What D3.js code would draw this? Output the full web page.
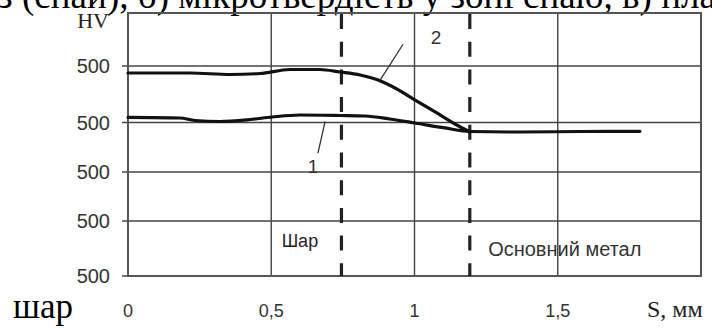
<!DOCTYPE html>
<html>
<head>
<meta charset="utf-8">
<script src="https://cdn.jsdelivr.net/npm/d3@7"></script>
<style>
  body { margin: 0; background: #fff; }
  svg { display: block; }
</style>
</head>
<body>
<div id="vis"></div>
<script>
var W = 712, H = 329;
var margin = {top: 13, right: 11, bottom: 53, left: 128};

// x ticks (mm) and their labels
var xTicks = [0, 0.5, 1, 1.5];
var xTickLabels = ["0", "0,5", "1", "1,5"];
// y ticks (HV) - labels as printed in the source
var yTicks = [100, 200, 300, 400, 500];
var yTickLabels = ["500", "500", "500", "500", "500"];

// zone borders (dashed), mm
var zoneBounds = [0.745, 1.193];

// curve 1
var s1  = [0, 0.181, 0.234, 0.321, 0.426, 0.503, 0.600, 0.740, 0.827, 0.914, 1.002, 1.106, 1.194, 1.368, 1.578, 1.787];
var hv1 = [409, 408, 403.5, 401.8, 405.3, 409.7, 413.3, 412.4, 411.5, 406.2, 399, 389, 381.8, 380.8, 381.8, 382.2];
// curve 2
var s2  = [0, 0.216, 0.356, 0.461, 0.565, 0.670, 0.740, 0.810, 0.873, 0.932, 1.002, 1.072, 1.141, 1.194];
var hv2 = [487.6, 487.6, 485, 486.7, 493.8, 493.8, 489.4, 484.1, 475.2, 461.1, 439.8, 418.6, 397, 380.8];

var svg = d3.select("#vis").append("svg")
  .attr("width", W).attr("height", H);

var x = d3.scaleLinear().domain([0, 2]).range([margin.left, W - margin.right]);
// the scanned grid is not evenly spaced, so the scale is piecewise
var y = d3.scaleLinear()
  .domain([100, 200, 300, 400, 500, 600])
  .range([276, 221, 172, 122.5, 66, margin.top]);

// caption fragment cut by the top edge
svg.append("text")
  .attr("x", -2).attr("y", 8)
  .attr("textLength", 718)
  .attr("lengthAdjust", "spacing")
  .style("font-family", "'Liberation Serif', 'Times New Roman', serif")
  .style("font-size", "37px")
  .attr("fill", "#000")
  .text("з (спай), б) мікротвердість у зоні спаю, в) пла");

// horizontal grid + left ticks
svg.append("g").selectAll("line")
  .data(yTicks)
  .enter().append("line")
  .attr("x1", margin.left - 6).attr("x2", x(2))
  .attr("y1", function (d) { return y(d); })
  .attr("y2", function (d) { return y(d); })
  .attr("stroke", "#444").attr("stroke-width", 1.4);

// vertical grid
svg.append("g").selectAll("line")
  .data(xTicks.slice(1))
  .enter().append("line")
  .attr("x1", function (d) { return x(d); })
  .attr("x2", function (d) { return x(d); })
  .attr("y1", y(600)).attr("y2", y(100))
  .attr("stroke", "#444").attr("stroke-width", 1.4);

// frame
svg.append("rect")
  .attr("x", x(0)).attr("y", y(600))
  .attr("width", x(2) - x(0)).attr("height", y(100) - y(600))
  .attr("fill", "none").attr("stroke", "#555").attr("stroke-width", 2);

// y labels
svg.append("g").selectAll("text")
  .data(yTicks)
  .enter().append("text")
  .attr("x", 110)
  .attr("y", function (d) { return y(d); })
  .attr("dy", "0.36em")
  .attr("text-anchor", "end")
  .style("font-family", "'Liberation Sans', Arial, sans-serif")
  .style("font-size", "20px")
  .attr("fill", "#333")
  .text(function (d, i) { return yTickLabels[i]; });

// x labels
svg.append("g").selectAll("text")
  .data(xTicks)
  .enter().append("text")
  .attr("x", function (d) { return x(d); })
  .attr("y", 317)
  .attr("text-anchor", "middle")
  .style("font-family", "'Liberation Sans', Arial, sans-serif")
  .style("font-size", "18px")
  .attr("fill", "#333")
  .text(function (d, i) { return xTickLabels[i]; });

svg.append("text")
  .attr("x", 647).attr("y", 317)
  .style("font-family", "'Liberation Serif', 'Times New Roman', serif")
  .style("font-size", "24px")
  .attr("fill", "#222")
  .text("S, мм");

svg.append("text")
  .attr("x", 109).attr("y", 28)
  .attr("text-anchor", "end")
  .style("font-family", "'Liberation Serif', 'Times New Roman', serif")
  .style("font-size", "22px")
  .attr("fill", "#222")
  .text("HV");

svg.append("text")
  .attr("x", 13).attr("y", 318)
  .style("font-family", "'Liberation Serif', 'Times New Roman', serif")
  .style("font-size", "35px")
  .attr("fill", "#000")
  .text("шар");

// zone borders
svg.append("g").selectAll("line")
  .data(zoneBounds)
  .enter().append("line")
  .attr("x1", function (d) { return x(d); })
  .attr("x2", function (d) { return x(d); })
  .attr("y1", y(600) + 1).attr("y2", y(100))
  .attr("stroke", "#222").attr("stroke-width", 3.2)
  .attr("stroke-dasharray", "15,12.7");

// curves
var line = d3.line()
  .x(function (d) { return x(d[0]); })
  .y(function (d) { return y(d[1]); })
  .curve(d3.curveMonotoneX);

[[s1, hv1], [s2, hv2]].forEach(function (c) {
  svg.append("path")
    .datum(d3.zip(c[0], c[1]))
    .attr("d", line)
    .attr("fill", "none")
    .attr("stroke", "#111")
    .attr("stroke-width", 3.2)
    .attr("stroke-linecap", "round");
});

// leaders and curve numbers
var leaders = [
  {label: "2", from: [0.880, 475], to: [0.960, 541], at: [1.075, 555]},
  {label: "1", from: [0.688, 402], to: [0.663, 338], at: [0.646, 312]}
];
leaders.forEach(function (d) {
  svg.append("line")
    .attr("x1", x(d.from[0])).attr("y1", y(d.from[1]))
    .attr("x2", x(d.to[0])).attr("y2", y(d.to[1]))
    .attr("stroke", "#333").attr("stroke-width", 1.3);
  svg.append("text")
    .attr("x", x(d.at[0])).attr("y", y(d.at[1]))
    .attr("dy", "0.36em")
    .attr("text-anchor", "middle")
    .style("font-family", "'Liberation Sans', Arial, sans-serif")
    .style("font-size", "19px")
    .attr("fill", "#333")
    .text(d.label);
});

// zone names
svg.append("text")
  .attr("x", x(0.600)).attr("y", y(165))
  .attr("dy", "0.36em")
  .attr("text-anchor", "middle")
  .style("font-family", "'Liberation Sans', Arial, sans-serif")
  .style("font-size", "18px")
  .attr("fill", "#222")
  .text("Шар");

svg.append("text")
  .attr("x", x(1.257)).attr("y", y(149))
  .attr("dy", "0.36em")
  .style("font-family", "'Liberation Sans', Arial, sans-serif")
  .style("font-size", "20px")
  .attr("fill", "#333")
  .text("Основний метал");
</script>
</body>
</html>
